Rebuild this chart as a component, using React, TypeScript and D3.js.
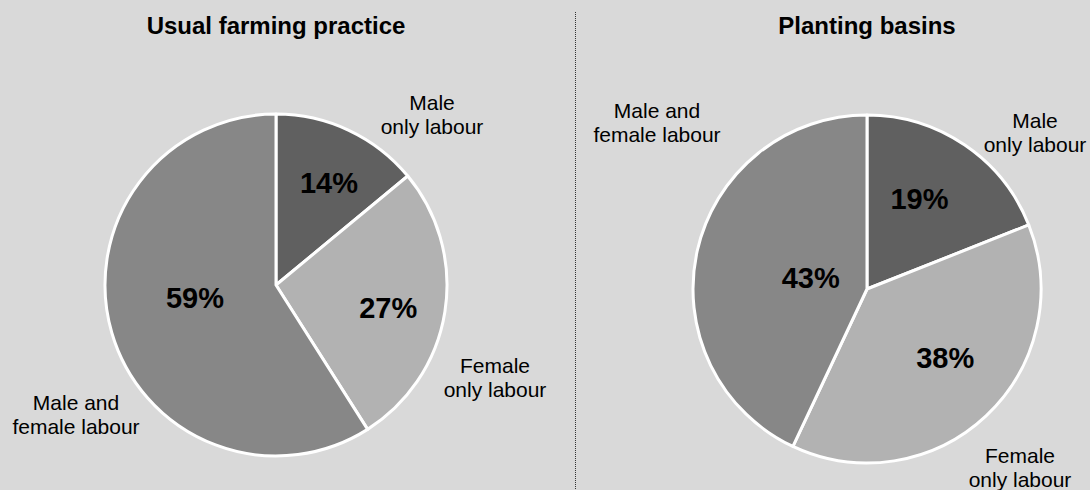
import React from "react";
import * as d3 from "d3";

const categories = ["Male only labour", "Female only labour", "Male and female labour"];
const usualValues = [14, 27, 59];
const basinValues = [19, 38, 43];
const titles = ["Usual farming practice", "Planting basins"];
const sliceColors = ["#606060", "#b2b2b2", "#878787"];

// label radial position (fraction of radius) and angle tweak (deg) for the inside percentage labels
const usualLabelK = [0.67, 0.67, 0.48];
const usualLabelShift = [2.3, 2.6, 7.3];
const basinLabelK = [0.6, 0.6, 0.33];
const basinLabelShift = [-4, -5.3, -1.5];

// outside category labels: lines, anchor x, first baseline y
const usualOuter = [
  { lines: ["Male", "only labour"], x: 432, y: 110 },
  { lines: ["Female", "only labour"], x: 495, y: 373 },
  { lines: ["Male and", "female labour"], x: 76, y: 410 },
];
const basinOuter = [
  { lines: ["Male", "only labour"], x: 1035, y: 128 },
  { lines: ["Female", "only labour"], x: 1020, y: 463 },
  { lines: ["Male and", "female labour"], x: 657, y: 118 },
];

const W = 1090;
const H = 490;
const FONT = "Liberation Sans, Arial, Helvetica, sans-serif";

type PieProps = {
  values: number[];
  cx: number;
  cy: number;
  r: number;
  labelK: number[];
  labelShift: number[];
  title: string;
  outer: { lines: string[]; x: number; y: number }[];
};

function Pie({ values, cx, cy, r, labelK, labelShift, title, outer }: PieProps) {
  const pie = d3.pie<number>().sort(null).value((d) => d);
  const arcs = pie(values);
  const arc = d3.arc<d3.PieArcDatum<number>>().innerRadius(0).outerRadius(r);
  return (
    <g>
      <text x={cx} y={34} textAnchor="middle" fontFamily={FONT} fontWeight="bold" fontSize={24} fill="#000">
        {title}
      </text>
      <g transform={`translate(${cx},${cy})`}>
        {arcs.map((a, i) => (
          <path key={i} d={arc(a) || ""} fill={sliceColors[i]} stroke="#fff" strokeWidth={3} strokeLinejoin="round" />
        ))}
        {arcs.map((a, i) => {
          const mid = (a.startAngle + a.endAngle) / 2 + (labelShift[i] * Math.PI) / 180;
          const d = labelK[i] * r;
          const x = Math.sin(mid) * d;
          const y = -Math.cos(mid) * d;
          return (
            <text key={i} x={x} y={y + 10} textAnchor="middle" fontFamily={FONT} fontWeight="bold" fontSize={29} fill="#000">
              {`${values[i]}%`}
            </text>
          );
        })}
      </g>
      {outer.map((o, i) => (
        <text key={i} textAnchor="middle" fontFamily={FONT} fontSize={21} fill="#000">
          {o.lines.map((l, j) => (
            <tspan key={j} x={o.x} y={o.y + j * 24}>
              {l}
            </tspan>
          ))}
        </text>
      ))}
    </g>
  );
}

export default function App() {
  return (
    <div style={{ position: "fixed", left: 0, top: 0 }}>
      <svg width={W} height={H} style={{ display: "block" }}>
        <rect x={0} y={0} width={W} height={H} fill="#d9d9d9" />
        <line x1={575.5} x2={575.5} y1={12} y2={H} stroke="#333" strokeWidth={1} strokeDasharray="1 1" />
        <Pie values={usualValues} cx={276} cy={285} r={171} labelK={usualLabelK} labelShift={usualLabelShift} title={titles[0]} outer={usualOuter} />
        <Pie values={basinValues} cx={867} cy={289} r={174} labelK={basinLabelK} labelShift={basinLabelShift} title={titles[1]} outer={basinOuter} />
      </svg>
    </div>
  );
}
